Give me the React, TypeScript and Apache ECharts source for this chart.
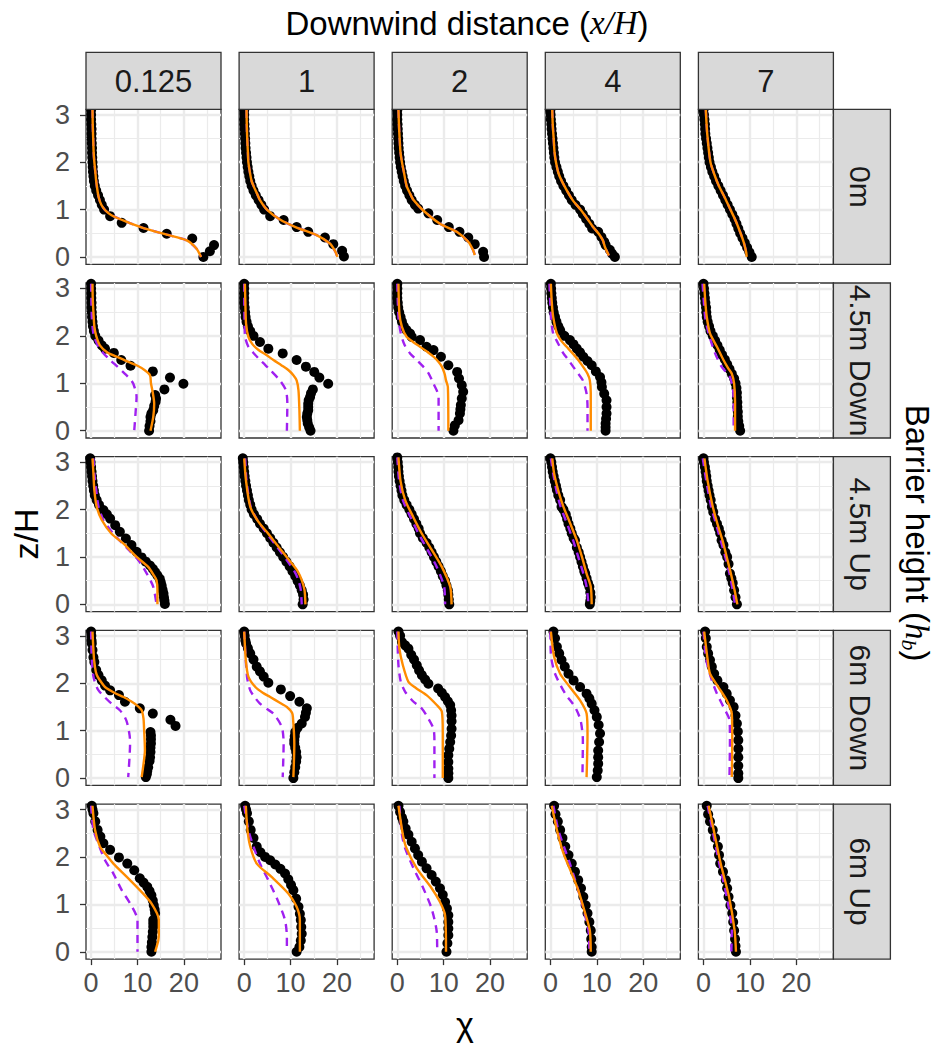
import React, { useEffect, useRef } from 'react';
import * as echarts from 'echarts';

// ---------- categories & ticks ----------
const DISTANCES = ['0.125', '1', '2', '4', '7'];
const BARRIERS = ['0m', '4.5m Down', '4.5m Up', '6m Down', '6m Up'];
const X_TICKS = [0, 10, 20];
const X_MINOR = [5, 15, 25];
const Y_TICKS = [0, 1, 2, 3];
const Y_MINOR = [0.5, 1.5, 2.5];
const X_RANGE = [-1.1, 28];
const Y_RANGE = [-0.155, 3.115];

// ---------- data: [chi, z/H] ----------
// Row 0m
const obs_0m_d0125 = [[0,3.1],[0,3.0],[0,2.9],[0.05,2.8],[0.1,2.7],[0.1,2.6],[0.1,2.5],[0.15,2.4],[0.2,2.3],[0.2,2.2],[0.25,2.1],[0.3,2.0],[0.35,1.9],[0.4,1.8],[0.5,1.7],[0.6,1.6],[0.8,1.5],[1.1,1.4],[1.5,1.3],[1.9,1.2],[2.3,1.1],[2.8,1.0],[4.1,0.86],[6.6,0.72],[11.3,0.61],[16.3,0.49],[21.8,0.39],[26.5,0.25],[25.6,0.12],[24.2,0.0]];
const solid_0m_d0125 = [[0.3,3.1],[0.35,2.8],[0.45,2.5],[0.55,2.2],[0.7,2.0],[0.9,1.8],[1.1,1.6],[1.3,1.45],[1.6,1.27],[2.2,1.1],[3.1,0.98],[4.4,0.88],[7.7,0.74],[11.3,0.61],[16.3,0.47],[20.6,0.35],[22.7,0.18],[23.7,0.0]];
const obs_0m_d1 = [[0,3.1],[0,3.0],[0,2.9],[0.05,2.8],[0.1,2.7],[0.15,2.6],[0.2,2.5],[0.25,2.4],[0.3,2.3],[0.4,2.2],[0.5,2.1],[0.6,2.0],[0.75,1.9],[0.9,1.8],[1.1,1.7],[1.3,1.6],[1.6,1.5],[2.0,1.4],[2.5,1.3],[3.1,1.2],[3.7,1.1],[4.3,1.0],[5.6,0.86],[8.5,0.78],[11.3,0.63],[13.8,0.53],[17.4,0.41],[19.2,0.27],[21.1,0.13],[21.5,0.01]];
const solid_0m_d1 = [[0.5,3.1],[0.55,2.8],[0.65,2.5],[0.8,2.2],[0.9,2.0],[1.2,1.8],[1.6,1.6],[2.0,1.5],[2.7,1.35],[3.4,1.2],[4.9,1.0],[7.7,0.79],[11.3,0.62],[15.6,0.46],[18.5,0.28],[19.6,0.12],[20.1,0.0]];
const obs_0m_d2 = [[0,3.1],[0,3.0],[0,2.9],[0.05,2.8],[0.1,2.7],[0.15,2.6],[0.2,2.5],[0.25,2.4],[0.3,2.3],[0.4,2.2],[0.5,2.1],[0.6,2.0],[0.75,1.9],[0.95,1.8],[1.15,1.7],[1.4,1.6],[1.7,1.5],[2.1,1.4],[2.6,1.3],[3.1,1.2],[3.8,1.1],[4.5,1.02],[6.7,0.92],[8.6,0.78],[11.1,0.63],[13.4,0.53],[15.3,0.41],[16.7,0.27],[18.5,0.11],[18.7,0.0]];
const solid_0m_d2 = [[0.25,3.1],[0.35,2.8],[0.5,2.5],[0.7,2.2],[1.0,2.0],[1.4,1.8],[2.0,1.5],[2.7,1.35],[3.5,1.2],[5.6,0.98],[9.2,0.7],[12.8,0.53],[15.3,0.32],[16.3,0.15],[16.7,0.04]];
const obs_0m_d4 = [[0,3.1],[0.05,3.0],[0.1,2.9],[0.2,2.8],[0.25,2.7],[0.35,2.6],[0.45,2.5],[0.55,2.4],[0.65,2.3],[0.75,2.2],[0.85,2.1],[1.0,2.0],[1.3,1.9],[1.6,1.8],[1.9,1.7],[2.3,1.6],[2.8,1.5],[3.4,1.4],[4.0,1.3],[4.6,1.2],[5.4,1.1],[6.4,1.0],[7.0,0.9],[7.7,0.8],[8.4,0.7],[9.0,0.6],[10.3,0.53],[11.0,0.42],[11.6,0.32],[11.9,0.25],[12.8,0.15],[13.3,0.07],[13.9,0.0]];
const solid_0m_d4 = [[0.4,3.1],[0.5,2.8],[0.7,2.5],[0.9,2.2],[1.2,2.0],[1.8,1.75],[3.0,1.5],[4.8,1.2],[6.5,1.0],[8.0,0.8],[9.2,0.63],[10.5,0.48],[11.3,0.35],[11.8,0.2],[12.6,0.03]];
const obs_0m_d7 = [[0,3.1],[0.1,3.0],[0.2,2.9],[0.3,2.8],[0.35,2.7],[0.4,2.6],[0.55,2.5],[0.7,2.4],[0.85,2.3],[1.0,2.2],[1.15,2.1],[1.3,2.0],[1.6,1.9],[1.9,1.8],[2.3,1.7],[2.7,1.6],[3.2,1.5],[3.7,1.4],[4.2,1.3],[4.7,1.2],[5.2,1.1],[5.7,1.0],[6.2,0.9],[6.7,0.8],[7.1,0.7],[7.5,0.6],[7.9,0.5],[8.4,0.4],[8.9,0.3],[9.4,0.2],[9.9,0.1],[10.4,0.0]];
const solid_0m_d7 = [[0.5,3.1],[0.8,2.6],[1.5,2.0],[2.3,1.75],[3.3,1.5],[4.6,1.25],[5.8,1.0],[7.0,0.75],[8.0,0.5],[8.7,0.3],[9.2,0.1],[9.3,0.0]];

// Row 4.5m Down
const obs_45d_d0125 = [[0,3.1],[0,3.0],[0.05,2.9],[0.05,2.8],[0.1,2.7],[0.1,2.6],[0.15,2.5],[0.2,2.4],[0.3,2.3],[0.4,2.2],[0.6,2.1],[0.9,2.0],[1.6,1.9],[2.3,1.8],[3.0,1.73],[4.9,1.64],[6.5,1.49],[8.5,1.37],[13.3,1.25],[17.0,1.12],[19.9,0.99],[15.8,0.87],[13.8,0.75],[14.0,0.68],[13.9,0.61],[13.6,0.52],[13.4,0.43],[13.0,0.36],[12.8,0.29],[12.8,0.2],[12.6,0.1],[12.5,0.0]];
const solid_45d_d0125 = [[0.3,3.1],[0.35,2.8],[0.5,2.5],[0.7,2.2],[1.1,2.0],[1.9,1.8],[3.5,1.65],[5.5,1.56],[7.8,1.46],[9.8,1.38],[11.5,1.28],[12.7,1.17],[12.9,1.0],[13.3,0.8],[13.6,0.57],[13.4,0.29],[12.8,0.0]];
const dashed_45d_d0125 = [[0,3.1],[0.05,2.8],[0.15,2.4],[0.35,2.15],[0.65,1.98],[1.6,1.77],[2.6,1.64],[4.1,1.49],[5.8,1.34],[7.3,1.2],[8.5,1.08],[9.1,0.99],[9.7,0.8],[9.8,0.71],[9.6,0.4],[9.3,0.0]];
const obs_45d_d1 = [[0,3.1],[0,3.0],[0,2.9],[0,2.8],[0,2.7],[0.1,2.6],[0.2,2.5],[0.3,2.4],[0.5,2.3],[0.8,2.2],[1.3,2.1],[2.0,2.0],[3.4,1.87],[5.2,1.73],[8.3,1.63],[11.3,1.49],[13.3,1.35],[15.1,1.24],[16.2,1.12],[18.1,0.99],[14.8,0.87],[14.4,0.79],[14.2,0.71],[13.9,0.64],[13.8,0.57],[13.8,0.5],[13.8,0.43],[13.6,0.36],[13.5,0.29],[13.6,0.22],[13.7,0.15],[14.0,0.07],[14.3,0.0]];
const solid_45d_d1 = [[0.15,3.1],[0.25,2.7],[0.4,2.26],[0.9,1.98],[1.8,1.82],[3.1,1.7],[4.7,1.6],[6.3,1.49],[8.0,1.38],[9.5,1.28],[10.6,1.17],[11.3,1.06],[11.7,0.85],[11.9,0.43],[12.0,0.0]];
const dashed_45d_d1 = [[0,3.1],[0.05,2.5],[0.2,1.98],[0.9,1.77],[2.0,1.64],[3.4,1.49],[4.5,1.39],[5.6,1.28],[7.7,1.06],[9.0,0.85],[9.3,0.57],[9.2,0.0]];
const obs_45d_d2 = [[0,3.1],[0,3.0],[0,2.9],[0,2.8],[0.1,2.7],[0.2,2.6],[0.4,2.5],[0.7,2.4],[1.0,2.3],[1.4,2.2],[2.0,2.12],[2.75,2.05],[3.1,1.98],[4.9,1.91],[6.3,1.77],[7.8,1.7],[9.4,1.56],[11.0,1.38],[12.9,1.24],[13.3,1.1],[13.9,0.96],[14.2,0.82],[13.9,0.68],[13.7,0.54],[13.6,0.45],[13.5,0.36],[13.2,0.22],[12.4,0.11],[12.1,0.0]];
const solid_45d_d2 = [[0.25,3.1],[0.45,2.47],[1.0,2.19],[2.0,1.98],[3.4,1.87],[4.9,1.77],[6.5,1.66],[7.8,1.56],[8.9,1.45],[9.6,1.35],[10.2,1.2],[10.5,1.06],[10.9,0.92],[11.0,0.0]];
const dashed_45d_d2 = [[0,3.1],[0.25,2.4],[0.75,2.05],[1.6,1.8],[2.75,1.63],[4.2,1.49],[5.6,1.35],[6.8,1.2],[7.8,0.99],[8.5,0.85],[8.9,0.71],[8.9,0.0]];
const obs_45d_d4 = [[0.1,3.1],[0.15,3.0],[0.2,2.9],[0.3,2.8],[0.4,2.7],[0.55,2.6],[0.7,2.5],[1.0,2.4],[1.3,2.3],[1.7,2.2],[2.1,2.12],[3.0,2.0],[4.2,1.91],[5.0,1.82],[5.7,1.73],[6.4,1.65],[7.1,1.56],[8.0,1.47],[8.9,1.38],[9.8,1.25],[10.7,1.13],[11.0,1.02],[11.1,0.92],[11.6,0.78],[12.1,0.64],[12.1,0.5],[12.1,0.36],[12.0,0.25],[11.9,0.15],[11.9,0.07],[11.9,0.0]];
const solid_45d_d4 = [[0.1,3.1],[0.3,2.7],[0.6,2.4],[1.4,2.05],[2.3,1.9],[3.5,1.77],[4.8,1.63],[6.0,1.49],[7.1,1.34],[8.0,1.2],[8.5,1.06],[8.7,0.8],[8.7,0.0]];
const dashed_45d_d4 = [[-0.2,3.1],[0,2.6],[0.2,2.3],[0.6,2.05],[1.6,1.85],[2.8,1.63],[3.9,1.49],[4.9,1.35],[6.0,1.2],[7.0,1.06],[7.8,0.78],[8.0,0.5],[8.0,0.0]];
const obs_45d_d7 = [[0,3.1],[0.1,3.0],[0.2,2.9],[0.3,2.8],[0.4,2.7],[0.55,2.6],[0.6,2.5],[0.7,2.4],[0.9,2.3],[1.2,2.2],[1.5,2.1],[2.0,2.0],[2.5,1.9],[3.0,1.8],[3.5,1.7],[4.0,1.6],[4.6,1.5],[5.1,1.4],[5.6,1.3],[6.1,1.2],[6.6,1.1],[6.9,1.0],[7.1,0.9],[7.2,0.8],[7.2,0.7],[7.3,0.6],[7.3,0.5],[7.4,0.4],[7.4,0.3],[7.5,0.2],[7.7,0.1],[7.9,0.0]];
const solid_45d_d7 = [[0.15,3.1],[0.4,2.7],[0.7,2.4],[1.4,2.05],[2.9,1.77],[4.3,1.49],[5.3,1.32],[6.1,1.2],[6.6,0.99],[6.8,0.6],[6.8,0.0]];
const dashed_45d_d7 = [[-0.2,3.1],[0.35,2.4],[1.1,2.05],[2.5,1.63],[3.9,1.35],[5.0,1.22],[5.7,1.13],[6.3,0.92],[6.5,0.6],[6.5,0.0]];

// Row 4.5m Up
const obs_45u_d0125 = [[-0.2,3.08],[-0.1,3.0],[0,2.9],[0.1,2.8],[0.2,2.7],[0.3,2.6],[0.45,2.5],[0.6,2.4],[0.8,2.3],[1.2,2.2],[1.7,2.1],[2.65,1.99],[3.4,1.9],[4.1,1.81],[5.2,1.67],[6.2,1.53],[7.5,1.39],[8.7,1.25],[9.8,1.11],[10.9,0.99],[11.8,0.9],[12.7,0.82],[13.3,0.75],[13.8,0.68],[14.3,0.61],[14.8,0.54],[15.0,0.47],[15.2,0.4],[15.4,0.31],[15.6,0.23],[15.7,0.15],[15.8,0.08],[15.9,0.01]];
const solid_45u_d0125 = [[0.3,3.08],[0.5,2.76],[0.7,2.41],[1.2,2.06],[2.3,1.78],[4.4,1.49],[7.0,1.28],[9.8,1.0],[12.3,0.79],[13.6,0.6],[14.1,0.51],[14.3,0.3],[14.3,0.0]];
const dashed_45u_d0125 = [[0.5,3.08],[0.7,2.76],[1.1,2.41],[1.6,2.06],[2.65,1.78],[4.8,1.49],[7.5,1.21],[10.2,0.93],[12.0,0.65],[13.4,0.37],[14.1,0.0]];
const obs_45u_d1 = [[-0.3,3.08],[-0.2,3.0],[-0.1,2.9],[0,2.8],[0.1,2.7],[0.25,2.6],[0.4,2.5],[0.6,2.4],[0.8,2.3],[1.0,2.2],[1.3,2.1],[1.6,2.0],[2.1,1.9],[2.8,1.8],[3.4,1.7],[4.2,1.6],[4.9,1.5],[5.6,1.4],[6.3,1.3],[7.0,1.2],[7.7,1.1],[8.4,1.0],[9.1,0.9],[9.8,0.8],[10.4,0.7],[11.0,0.6],[11.5,0.5],[12.0,0.4],[12.4,0.3],[12.7,0.2],[12.8,0.1],[12.6,0.0]];
const solid_45u_d1 = [[0,3.08],[0.4,2.6],[1.3,2.06],[3.0,1.75],[5.2,1.49],[7.5,1.2],[9.7,0.93],[11.5,0.7],[12.4,0.51],[13.0,0.3],[13.2,0.0]];
const dashed_45u_d1 = [[0.2,3.08],[0.5,2.6],[1.4,2.06],[2.8,1.78],[4.9,1.49],[7.1,1.21],[9.2,0.93],[10.8,0.7],[11.7,0.51],[12.2,0.3],[12.4,0.0]];
const obs_45u_d2 = [[0,3.1],[0.1,3.0],[0.2,2.9],[0.25,2.8],[0.35,2.7],[0.5,2.6],[0.7,2.5],[0.9,2.4],[1.1,2.3],[1.5,2.2],[2.0,2.1],[2.6,2.0],[3.1,1.9],[3.6,1.8],[4.1,1.7],[4.6,1.6],[4.9,1.5],[5.5,1.4],[6.3,1.3],[6.9,1.2],[7.4,1.1],[7.9,1.0],[8.4,0.9],[8.9,0.8],[9.4,0.7],[9.8,0.6],[10.3,0.5],[10.6,0.4],[10.9,0.3],[11.0,0.2],[11.1,0.1],[11.2,0.0]];
const solid_45u_d2 = [[0.25,3.1],[0.7,2.6],[1.7,2.2],[3.4,1.85],[5.3,1.49],[7.5,1.14],[9.6,0.79],[11.4,0.37],[11.7,0.0]];
const dashed_45u_d2 = [[0,3.1],[0.4,2.6],[1.2,2.2],[2.8,1.85],[4.6,1.49],[6.6,1.14],[8.5,0.79],[10.1,0.37],[10.3,0.0]];
const obs_45u_d4 = [[0,3.08],[0.2,3.0],[0.35,2.9],[0.5,2.8],[0.7,2.7],[0.95,2.6],[1.2,2.5],[1.4,2.41],[1.7,2.3],[2.1,2.2],[2.4,2.06],[2.8,2.0],[3.3,1.9],[3.6,1.8],[3.9,1.7],[4.3,1.6],[4.6,1.5],[5.0,1.4],[5.3,1.35],[5.7,1.2],[6.1,1.1],[6.4,1.0],[6.7,0.9],[7.0,0.8],[7.3,0.7],[7.5,0.65],[7.8,0.55],[8.1,0.45],[8.4,0.37],[8.6,0.25],[8.7,0.15],[8.6,0.07],[8.5,0.0]];
const solid_45u_d4 = [[0.4,3.08],[0.8,2.76],[1.7,2.4],[2.8,2.06],[4.3,1.7],[5.7,1.35],[6.8,1.0],[7.8,0.65],[8.7,0.37],[8.9,0.0]];
const dashed_45u_d4 = [[0.1,3.08],[0.6,2.76],[1.3,2.4],[2.2,2.06],[3.6,1.7],[4.9,1.35],[6.0,1.0],[7.1,0.65],[7.8,0.37],[8.2,0.0]];
const obs_45u_d7 = [[0,3.08],[0.1,3.0],[0.3,2.9],[0.45,2.8],[0.6,2.7],[0.7,2.6],[0.9,2.5],[1.1,2.4],[1.3,2.3],[1.55,2.2],[1.8,2.06],[2.1,1.95],[2.5,1.8],[2.9,1.7],[3.3,1.6],[3.6,1.5],[3.9,1.35],[4.3,1.25],[4.7,1.1],[5.1,1.0],[5.4,0.85],[5.7,0.65],[6.0,0.55],[6.3,0.45],[6.6,0.3],[6.9,0.15],[7.2,0.0]];
const solid_45u_d7 = [[0.2,3.08],[0.9,2.6],[2.0,2.06],[3.0,1.7],[4.1,1.35],[5.0,1.0],[5.9,0.65],[6.7,0.3],[7.3,0.0]];
const dashed_45u_d7 = [[-0.15,3.08],[0.6,2.6],[1.65,2.06],[2.7,1.7],[3.7,1.35],[4.7,1.0],[5.6,0.65],[6.3,0.3],[6.8,0.0]];

// Row 6m Down
const obs_6d_d0125 = [[0,3.09],[0.05,3.0],[0.1,2.9],[0.15,2.84],[0.3,2.7],[0.5,2.55],[0.7,2.45],[1.1,2.28],[1.6,2.17],[2.3,2.06],[3.0,1.95],[4.1,1.85],[6.0,1.75],[7.3,1.61],[10.5,1.47],[13.3,1.36],[17.1,1.23],[18.2,1.1],[12.8,0.97],[12.9,0.9],[12.9,0.82],[12.9,0.73],[12.8,0.64],[12.8,0.55],[12.7,0.44],[12.6,0.36],[12.3,0.23],[12.1,0.15],[12.0,0.08],[11.8,0.02]];
const solid_6d_d0125 = [[0.3,3.09],[0.5,2.7],[0.65,2.49],[1.0,2.25],[1.4,2.14],[2.2,2.02],[3.0,1.92],[5.0,1.8],[7.0,1.71],[8.6,1.62],[9.8,1.54],[10.9,1.43],[11.3,1.25],[11.4,1.08],[11.6,0.58],[11.3,0.3],[10.9,0.02]];
const dashed_6d_d0125 = [[0,3.09],[0.15,2.49],[0.5,2.14],[1.0,1.97],[1.6,1.85],[3.0,1.7],[4.4,1.57],[6.2,1.43],[7.3,1.28],[7.8,1.15],[8.3,0.9],[8.4,0.73],[8.0,0.02]];
const obs_6d_d1 = [[0,3.09],[0.1,3.0],[0.25,2.9],[0.4,2.84],[0.8,2.74],[1.3,2.63],[2.0,2.5],[2.7,2.35],[3.4,2.25],[4.2,2.14],[5.2,2.01],[7.9,1.87],[9.9,1.73],[11.9,1.61],[13.5,1.47],[13.3,1.38],[13.1,1.29],[12.4,1.15],[11.5,1.06],[11.0,0.97],[10.9,0.88],[10.8,0.8],[10.8,0.73],[11.0,0.64],[11.2,0.55],[11.3,0.44],[11.2,0.35],[11.0,0.23],[10.8,0.12],[10.6,0.0]];
const solid_6d_d1 = [[0,3.09],[0.35,2.49],[0.9,2.14],[2.4,1.92],[4.0,1.8],[5.6,1.71],[7.5,1.6],[9.2,1.5],[10.3,1.38],[10.5,1.29],[10.8,0.73],[10.6,0.02]];
const dashed_6d_d1 = [[0,3.09],[0.6,2.14],[1.3,1.85],[2.3,1.7],[3.4,1.57],[5.0,1.45],[6.3,1.36],[8.1,1.08],[8.5,0.73],[8.3,0.02]];
const obs_6d_d2 = [[0.25,3.09],[0.6,3.0],[1.0,2.87],[1.7,2.8],[2.4,2.73],[3.0,2.6],[3.6,2.5],[4.2,2.38],[4.7,2.27],[5.3,2.17],[6.0,2.08],[6.7,1.99],[8.8,1.89],[9.6,1.8],[10.3,1.71],[10.9,1.62],[11.4,1.54],[11.6,1.43],[11.7,1.32],[11.7,1.2],[11.7,1.04],[11.6,0.9],[11.4,0.76],[11.2,0.62],[11.0,0.48],[11.0,0.34],[11.0,0.2],[11.0,0.1],[11.0,0.0]];
const solid_6d_d2 = [[0.25,3.09],[0.45,2.73],[1.2,2.38],[2.4,2.03],[4.0,1.9],[6.3,1.75],[8.5,1.54],[9.6,1.4],[9.8,0.97],[9.8,0.0]];
const dashed_6d_d2 = [[0,3.09],[0.25,2.38],[0.75,2.03],[1.7,1.82],[3.5,1.61],[5.0,1.5],[6.3,1.32],[7.8,1.04],[8.0,0.76],[8.0,0.0]];
const obs_6d_d4 = [[0.65,3.09],[1.0,2.95],[1.4,2.77],[1.9,2.63],[2.4,2.49],[3.1,2.35],[3.9,2.2],[5.0,2.06],[6.4,1.92],[7.8,1.78],[8.4,1.68],[8.9,1.57],[9.5,1.43],[10.0,1.29],[10.4,1.12],[10.7,0.94],[10.5,0.76],[10.3,0.58],[10.3,0.44],[10.3,0.3],[10.2,0.16],[10.0,0.02]];
const solid_6d_d4 = [[0.1,3.09],[0.8,2.56],[2.1,2.2],[4.2,1.92],[6.4,1.64],[7.8,1.36],[8.0,0.94],[7.8,0.02]];
const dashed_6d_d4 = [[0,3.09],[0.15,2.56],[1.0,2.2],[3.2,1.78],[5.3,1.5],[6.5,1.22],[7.0,0.8],[6.9,0.02]];
const obs_6d_d7 = [[0.35,3.09],[0.5,2.95],[0.7,2.77],[1.0,2.63],[1.4,2.49],[1.8,2.35],[2.3,2.2],[3.0,2.06],[4.3,1.92],[5.0,1.78],[5.7,1.64],[6.5,1.5],[6.9,1.32],[7.2,1.15],[7.4,0.98],[7.5,0.8],[7.5,0.62],[7.5,0.44],[7.5,0.26],[7.5,0.1],[7.5,0.0]];
const solid_6d_d7 = [[0.15,3.09],[0.9,2.49],[1.4,2.2],[3.2,1.92],[5.0,1.64],[6.1,1.36],[6.2,0.8],[6.1,0.02]];
const dashed_6d_d7 = [[0,3.09],[0.6,2.49],[1.8,2.06],[2.9,1.78],[4.3,1.5],[5.6,1.22],[5.7,0.8],[5.6,0.02]];

// Row 6m Up
const obs_6u_d0125 = [[0.15,3.08],[0.3,3.0],[0.5,2.92],[0.9,2.75],[1.4,2.57],[2.0,2.43],[2.65,2.29],[4.1,2.15],[6.0,1.99],[7.8,1.86],[9.3,1.72],[10.5,1.55],[11.3,1.46],[12.1,1.37],[12.6,1.28],[13.0,1.19],[13.3,1.08],[13.5,0.98],[13.7,0.89],[13.8,0.81],[13.4,0.67],[13.4,0.6],[13.4,0.53],[13.3,0.42],[13.2,0.31],[13.1,0.2],[13.0,0.1],[13.0,0.0]];
const solid_6u_d0125 = [[0.3,3.08],[0.85,2.57],[1.9,2.22],[3.2,2.05],[4.8,1.86],[7.7,1.58],[10.5,1.3],[13.0,1.02],[14.6,0.67],[14.6,0.4],[14.5,0.25],[13.8,0.0]];
const dashed_6u_d0125 = [[0,3.08],[0.5,2.57],[1.8,2.22],[3.0,1.93],[4.8,1.65],[6.6,1.3],[8.4,1.02],[10.0,0.67],[10.0,0.0]];
const obs_6u_d1 = [[0.2,3.08],[0.4,3.0],[0.6,2.92],[1.0,2.75],[1.4,2.57],[2.0,2.4],[2.7,2.22],[3.5,2.1],[4.5,2.0],[5.6,1.93],[6.7,1.84],[7.8,1.75],[8.8,1.65],[9.5,1.53],[10.1,1.41],[10.6,1.3],[11.2,1.12],[11.7,0.95],[12.0,0.8],[12.2,0.67],[12.3,0.52],[12.4,0.38],[12.2,0.24],[11.9,0.1],[11.3,0.0]];
const solid_6u_d1 = [[0.35,3.08],[0.7,2.57],[1.3,2.22],[2.7,1.86],[5.9,1.58],[9.5,1.23],[11.3,0.95],[12.0,0.67],[12.0,0.0]];
const dashed_6u_d1 = [[0,3.08],[0.9,2.57],[2.0,2.22],[3.4,1.86],[5.2,1.51],[7.2,1.09],[8.8,0.67],[9.2,0.3],[9.2,0.0]];
const obs_6u_d2 = [[0.25,3.08],[0.6,2.95],[1.0,2.83],[1.3,2.75],[1.8,2.6],[2.4,2.47],[3.1,2.32],[3.8,2.18],[4.5,2.04],[5.3,1.9],[6.3,1.76],[7.4,1.62],[8.3,1.48],[9.2,1.34],[9.8,1.2],[10.3,1.05],[10.7,0.91],[11.0,0.77],[11.0,0.63],[11.0,0.49],[11.0,0.35],[10.8,0.18],[10.6,0.0]];
const solid_6u_d2 = [[0.25,3.08],[1.2,2.47],[2.0,2.18],[4.2,1.76],[7.4,1.34],[9.2,1.05],[10.3,0.77],[10.5,0.0]];
const dashed_6u_d2 = [[0.45,3.08],[1.0,2.47],[1.7,2.18],[3.5,1.76],[5.6,1.34],[7.4,0.91],[8.5,0.42],[8.6,0.0]];
const obs_6u_d4 = [[0.8,3.08],[1.1,2.9],[1.6,2.75],[2.1,2.57],[2.6,2.4],[3.2,2.22],[3.9,2.04],[4.6,1.86],[5.3,1.69],[6.0,1.51],[6.6,1.34],[7.1,1.16],[7.6,0.98],[8.0,0.81],[8.4,0.63],[8.7,0.45],[8.8,0.27],[8.9,0.1],[8.9,0.0]];
const solid_6u_d4 = [[0.3,3.08],[1.4,2.57],[2.8,2.08],[4.6,1.65],[6.0,1.3],[7.5,0.81],[8.5,0.45],[8.7,0.0]];
const dashed_6u_d4 = [[0.65,3.08],[1.7,2.57],[4.2,1.86],[6.4,1.16],[8.2,0.45],[8.4,0.0]];
const obs_6u_d7 = [[0.7,3.08],[1.0,2.9],[1.4,2.75],[2.0,2.57],[2.5,2.4],[3.1,2.22],[3.35,2.04],[3.6,1.86],[4.2,1.69],[4.8,1.51],[5.1,1.34],[5.4,1.16],[5.8,0.98],[6.2,0.81],[6.4,0.63],[6.6,0.45],[6.8,0.27],[6.9,0.12],[7.0,0.0]];
const solid_6u_d7 = [[1.1,3.08],[2.2,2.57],[3.7,1.86],[5.5,1.16],[6.7,0.45],[7.0,0.0]];
const dashed_6u_d7 = [[0.9,3.08],[3.4,1.86],[5.0,1.16],[6.1,0.45],[6.0,0.0]];

// panel table: rows = barrier, cols = distance ; [observed, solid (orange), dashed (purple)]
const PANELS = [
  [[obs_0m_d0125, solid_0m_d0125, solid_0m_d0125], [obs_0m_d1, solid_0m_d1, solid_0m_d1], [obs_0m_d2, solid_0m_d2, solid_0m_d2], [obs_0m_d4, solid_0m_d4, solid_0m_d4], [obs_0m_d7, solid_0m_d7, solid_0m_d7]],
  [[obs_45d_d0125, solid_45d_d0125, dashed_45d_d0125], [obs_45d_d1, solid_45d_d1, dashed_45d_d1], [obs_45d_d2, solid_45d_d2, dashed_45d_d2], [obs_45d_d4, solid_45d_d4, dashed_45d_d4], [obs_45d_d7, solid_45d_d7, dashed_45d_d7]],
  [[obs_45u_d0125, solid_45u_d0125, dashed_45u_d0125], [obs_45u_d1, solid_45u_d1, dashed_45u_d1], [obs_45u_d2, solid_45u_d2, dashed_45u_d2], [obs_45u_d4, solid_45u_d4, dashed_45u_d4], [obs_45u_d7, solid_45u_d7, dashed_45u_d7]],
  [[obs_6d_d0125, solid_6d_d0125, dashed_6d_d0125], [obs_6d_d1, solid_6d_d1, dashed_6d_d1], [obs_6d_d2, solid_6d_d2, dashed_6d_d2], [obs_6d_d4, solid_6d_d4, dashed_6d_d4], [obs_6d_d7, solid_6d_d7, dashed_6d_d7]],
  [[obs_6u_d0125, solid_6u_d0125, dashed_6u_d0125], [obs_6u_d1, solid_6u_d1, dashed_6u_d1], [obs_6u_d2, solid_6u_d2, dashed_6u_d2], [obs_6u_d4, solid_6u_d4, dashed_6u_d4], [obs_6u_d7, solid_6u_d7, dashed_6u_d7]],
];

// ---------- layout / style ----------
const W = 941, H = 1050;
const PANEL_LEFT = 86, PANEL_DX = 153.1, PANEL_W = 135;
const PANEL_TOP = 109.3, PANEL_DY = 173.7, PANEL_H = 155;
const STRIP = 57;
const SANS = '"Liberation Sans", Arial, sans-serif';
const SERIF = '"Liberation Serif", "Times New Roman", serif';
const GRID_COLOR = '#EBEBEB';

function buildOption() {
  const grid: any[] = [], xAxis: any[] = [], yAxis: any[] = [], series: any[] = [], graphic: any[] = [];
  PANELS.forEach((row, r) => {
    row.forEach((panel, c) => {
      const i = r * 5 + c;
      grid.push({
        left: PANEL_LEFT + c * PANEL_DX, top: PANEL_TOP + r * PANEL_DY, width: PANEL_W, height: PANEL_H,
        show: true, backgroundColor: '#FFFFFF', borderColor: '#333333', borderWidth: 1.3,
        containLabel: false, outerBoundsMode: 'none',
      });
      xAxis.push({
        type: 'value', gridIndex: i, min: X_RANGE[0], max: X_RANGE[1],
        axisLine: { show: false, onZero: false },
        axisTick: { show: r === 4, customValues: X_TICKS, length: 6, lineStyle: { color: '#333333', width: 1.3 } },
        axisLabel: { show: r === 4, customValues: X_TICKS, fontSize: 27, color: '#4D4D4D', margin: 10, fontFamily: SANS },
        splitLine: { show: false },
      });
      yAxis.push({
        type: 'value', gridIndex: i, min: Y_RANGE[0], max: Y_RANGE[1],
        axisLine: { show: false, onZero: false },
        axisTick: { show: c === 0, customValues: Y_TICKS, length: 6, lineStyle: { color: '#333333', width: 1.3 } },
        axisLabel: { show: c === 0, customValues: Y_TICKS, fontSize: 27, color: '#4D4D4D', margin: 16, fontFamily: SANS },
        splitLine: { show: false },
      });
      const gl = (key: string, v: number, w: number) => ({ [key]: v, lineStyle: { color: GRID_COLOR, width: w, type: 'solid' } });
      series.push({
        type: 'line', xAxisIndex: i, yAxisIndex: i, data: [], silent: true, z: 1,
        markLine: {
          silent: true, z: 1, symbol: ['none', 'none'], label: { show: false }, animation: false,
          emphasis: { disabled: true },
          data: [
            ...X_MINOR.map(v => gl('xAxis', v, 1.2)),
            ...Y_MINOR.map(v => gl('yAxis', v, 1.2)),
            ...X_TICKS.map(v => gl('xAxis', v, 2.4)),
            ...Y_TICKS.map(v => gl('yAxis', v, 2.4)),
          ],
        },
      });
      series.push({
        type: 'scatter', xAxisIndex: i, yAxisIndex: i, data: panel[0], symbolSize: 10, z: 2,
        itemStyle: { color: '#000000', opacity: 1 }, silent: true,
      });
      series.push({
        type: 'line', xAxisIndex: i, yAxisIndex: i, data: panel[2], showSymbol: false, smooth: 0.25, z: 3,
        lineStyle: { color: '#A020F0', width: 2.4, type: [8, 6] }, silent: true,
      });
      series.push({
        type: 'line', xAxisIndex: i, yAxisIndex: i, data: panel[1], showSymbol: false, smooth: 0.25, z: 4,
        lineStyle: { color: '#FF8C00', width: 2.4 }, silent: true,
      });
    });
  });

  // column strips (top)
  DISTANCES.forEach((d, c) => {
    const x = PANEL_LEFT + c * PANEL_DX;
    graphic.push({ type: 'rect', shape: { x, y: PANEL_TOP - STRIP, width: PANEL_W, height: STRIP }, style: { fill: '#D9D9D9', stroke: '#333333', lineWidth: 1.3 }, z: 10 });
    graphic.push({ type: 'text', x: x + PANEL_W / 2, y: PANEL_TOP - STRIP / 2 + 1, z: 11, style: { text: d, fontSize: 31, fontFamily: SANS, fill: '#1A1A1A', align: 'center', verticalAlign: 'middle' } });
  });
  // row strips (right)
  BARRIERS.forEach((b, r) => {
    const y = PANEL_TOP + r * PANEL_DY;
    const x = PANEL_LEFT + 4 * PANEL_DX + PANEL_W;
    graphic.push({ type: 'rect', shape: { x, y, width: STRIP, height: PANEL_H }, style: { fill: '#D9D9D9', stroke: '#333333', lineWidth: 1.3 }, z: 10 });
    graphic.push({ type: 'text', x: x + STRIP / 2 - 1, y: y + PANEL_H / 2, rotation: -Math.PI / 2, z: 11, style: { text: b, fontSize: 30, fontFamily: SANS, fill: '#1A1A1A', align: 'center', verticalAlign: 'middle' } });
  });
  // titles
  graphic.push({
    type: 'text', x: 467, y: 23, z: 11,
    style: {
      text: '{n|Downwind distance (}{i|x/H}{n|)}', align: 'center', verticalAlign: 'middle',
      rich: { n: { fontSize: 33, fontFamily: SANS, fill: '#000' }, i: { fontSize: 33, fontFamily: SERIF, fontStyle: 'italic', fill: '#000' } },
    },
  });
  graphic.push({
    type: 'text', x: 917, y: 533, rotation: -Math.PI / 2, z: 11,
    style: {
      text: '{n|Barrier height (}{i|h}{s|b}{n|)}', align: 'center', verticalAlign: 'middle',
      rich: {
        n: { fontSize: 33, fontFamily: SANS, fill: '#000', lineHeight: 38 },
        i: { fontSize: 33, fontFamily: SERIF, fontStyle: 'italic', fill: '#000', lineHeight: 38 },
        s: { fontSize: 22, fontFamily: SERIF, fontStyle: 'italic', fill: '#000', lineHeight: 38, verticalAlign: 'bottom' },
      },
    },
  });
  graphic.push({ type: 'text', x: 26, y: 534, rotation: Math.PI / 2, z: 11, style: { text: 'z/H', fontSize: 34, fontFamily: SANS, fill: '#000', align: 'center', verticalAlign: 'middle' } });
  graphic.push({ type: 'text', x: 465, y: 1024, z: 11, style: { text: 'χ', fontSize: 34, fontFamily: SANS, fill: '#000', align: 'center', verticalAlign: 'middle' } });

  return { animation: false, backgroundColor: '#FFFFFF', grid, xAxis, yAxis, series, graphic };
}

export default function App() {
  const ref = useRef<HTMLDivElement>(null);
  useEffect(() => {
    if (!ref.current) return;
    const chart = echarts.init(ref.current, undefined, { renderer: 'svg' });
    chart.setOption(buildOption() as any);
    return () => chart.dispose();
  }, []);
  return <div ref={ref} style={{ position: 'fixed', left: 0, top: 0, width: W, height: H, background: '#fff' }} />;
}
